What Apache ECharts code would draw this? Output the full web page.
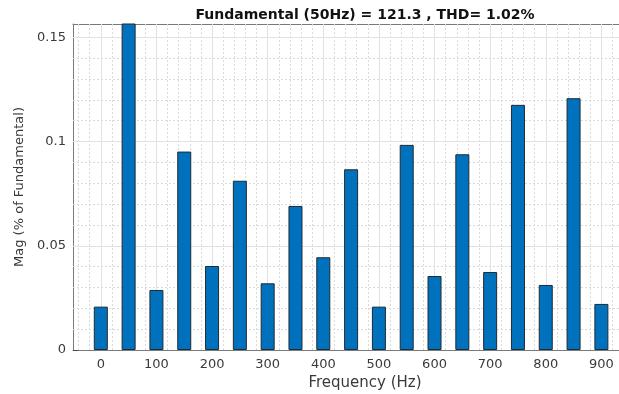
<!DOCTYPE html>
<html>
<head>
<meta charset="utf-8">
<script src="https://cdn.jsdelivr.net/npm/echarts@6/dist/echarts.min.js"></script>
<style>
  html, body { margin: 0; padding: 0; background: #fff; }
  #chart { width: 619px; height: 394px; }
</style>
</head>
<body>
<div id="chart"></div>
<script>
// Harmonic spectrum: frequency bins (Hz) and magnitude (% of fundamental)
const freqs = [0, 50, 100, 150, 200, 250, 300, 350, 400, 450, 500, 550, 600, 650, 700, 750, 800, 850, 900];
const mags = [0.0208, 100, 0.0288, 0.0952, 0.0403, 0.0812, 0.0320, 0.0691, 0.0445, 0.0867,
              0.0208, 0.0984, 0.0355, 0.0939, 0.0374, 0.1176, 0.0312, 0.1208, 0.0221];

// Axis ticks
const xTicks = [0, 100, 200, 300, 400, 500, 600, 700, 800, 900];
const yTicks = [0, 0.05, 0.1, 0.15];

const titleText = 'Fundamental (50Hz) = 121.3 , THD= 1.02%';

const X_MIN = -50, X_MAX = 1000;
const Y_MIN = 0, Y_MAX = 0.1564;
const FONT = 'DejaVu Sans';

// Grid lines: major at tick positions, dotted minor lines in between
function round(v) { return Math.round(v * 1e6) / 1e6; }
const xMinor = [];
for (let v = -40; v < X_MAX; v += 20) if (v % 100 !== 0) xMinor.push(v);
const yMinor = [];
for (let k = 1; k <= 15; k++) if (k % 5 !== 0) yMinor.push(round(k * 0.01));

const minorStyle = { color: '#dadada', type: [2, 2], width: 1 };
const majorStyle = { color: '#e2e2e2', type: 'solid', width: 1 };
const gridLines = []
  .concat(xMinor.map(v => ({ xAxis: v, lineStyle: minorStyle })))
  .concat(yMinor.map(v => ({ yAxis: v, lineStyle: minorStyle })))
  .concat(xTicks.map(v => ({ xAxis: v, lineStyle: majorStyle })))
  .concat(yTicks.slice(1).map(v => ({ yAxis: v, lineStyle: majorStyle })));

const axisLineStyle = { color: '#7a7a7a', width: 1 };
const tickStyle = { color: '#444', width: 1 };
const labelStyle = { color: '#3a3a3a', fontSize: 13, fontFamily: FONT };

const chart = echarts.init(document.getElementById('chart'), null, { renderer: 'canvas' });
chart.setOption({
  animation: false,
  backgroundColor: '#fff',
  title: {
    text: titleText,
    left: 360,
    textAlign: 'center',
    top: 3,
    textStyle: { fontSize: 14, fontWeight: 'bold', fontFamily: FONT, color: '#111' }
  },
  grid: { left: 73, top: 24, width: 584, height: 326, outerBoundsMode: 'none', containLabel: false },
  xAxis: [{
    type: 'value',
    min: X_MIN, max: X_MAX,
    position: 'bottom',
    name: 'Frequency (Hz)',
    nameLocation: 'middle',
    nameGap: 25,
    nameTextStyle: { fontSize: 15, fontFamily: FONT, color: '#3a3a3a' },
    axisLine: { show: true, onZero: false, lineStyle: axisLineStyle },
    axisTick: { show: true, inside: true, length: 5, customValues: xTicks, lineStyle: tickStyle },
    axisLabel: Object.assign({ customValues: xTicks, margin: 8 }, labelStyle),
    splitLine: { show: false }
  }, {
    type: 'value',
    min: X_MIN, max: X_MAX,
    position: 'top',
    axisLine: { show: true, onZero: false, lineStyle: axisLineStyle },
    axisTick: { show: true, inside: true, length: 5, customValues: xTicks, lineStyle: tickStyle },
    axisLabel: { show: false },
    splitLine: { show: false }
  }],
  yAxis: {
    type: 'value',
    min: Y_MIN, max: Y_MAX,
    name: 'Mag (% of Fundamental)',
    nameLocation: 'middle',
    nameGap: 45,
    nameTextStyle: { fontSize: 13, fontFamily: FONT, color: '#3a3a3a' },
    axisLine: { show: true, onZero: false, lineStyle: axisLineStyle },
    axisTick: { show: true, inside: true, length: 5, customValues: yTicks, lineStyle: tickStyle },
    axisLabel: Object.assign({ customValues: yTicks, margin: 7 }, labelStyle),
    splitLine: { show: false }
  },
  series: [{
    type: 'bar',
    data: freqs.map((f, i) => [f, mags[i]]),
    barWidth: 14,
    clip: true,
    z: 3,
    itemStyle: { color: '#0072bd', borderColor: '#1f2a33', borderWidth: 1 },
    markLine: {
      silent: true,
      symbol: 'none',
      z: 1,
      label: { show: false },
      emphasis: { disabled: true },
      data: gridLines
    }
  }]
});
</script>
</body>
</html>
